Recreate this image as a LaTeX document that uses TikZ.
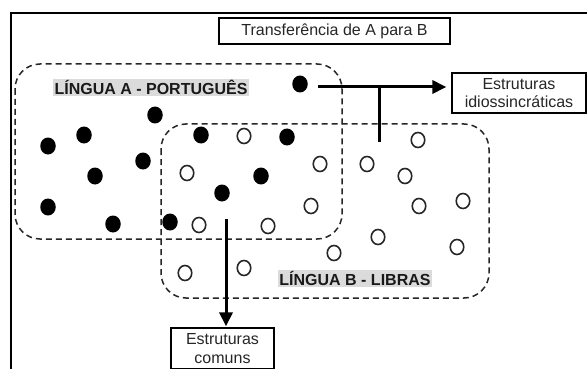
\documentclass[tikz,border=0pt]{standalone}
\usepackage{fontspec}
\setmainfont{Liberation Sans}
\usetikzlibrary{arrows.meta,shapes.geometric}
\begin{document}
\begin{tikzpicture}[x=1pt,y=-1pt,
  fulldot/.style={ellipse,fill=black,minimum width=15.5pt,minimum height=17pt,inner sep=0pt},
  opendot/.style={ellipse,draw=black!85,line width=1.6pt,minimum width=13.5pt,minimum height=15pt,inner sep=0pt},
  region/.style={draw=black!85,line width=1.5pt,dash pattern=on 6pt off 4pt,rounded corners=25pt},
  langlabel/.style={fill=black!14,inner sep=1.5pt,font=\fontsize{16}{18}\selectfont\bfseries,text=black!90},
  textbox/.style={draw=black,line width=1.2pt,align=center,inner sep=0pt,font=\fontsize{16}{18.5}\selectfont,text=black!85},
  arr/.style={line width=3pt,-{Triangle[length=14pt,width=13pt]}},
  plainline/.style={line width=3pt}
]
\useasboundingbox (0,0) rectangle (587,369);
\clip (0,0) rectangle (587,369);
\fill[white] (0,0) rectangle (587,369);
% outer frame
\draw[line width=2.2pt] (11,380) -- (11,13) -- (600,13);
% title
\node[textbox,minimum width=231pt,minimum height=26pt] (title) at (334.5,31) {Transferência de A para B};
% regions
\draw[region] (15,64) rectangle (342,239);
\draw[region] (161,124) rectangle (489,298);
\node[langlabel] (la) at (151,87.5) {LÍNGUA A - PORTUGUÊS};
\node[langlabel] (lb) at (355,278.5) {LÍNGUA B - LIBRAS};
% filled dots
\node[fulldot] (f1) at (300,84) {};
\node[fulldot] (f2) at (48,146) {};
\node[fulldot] (f3) at (84,135) {};
\node[fulldot] (f4) at (155,115) {};
\node[fulldot] (f5) at (143,161) {};
\node[fulldot] (f6) at (95,176) {};
\node[fulldot] (f7) at (48,207) {};
\node[fulldot] (f8) at (113,224) {};
\node[fulldot] (f9) at (170,222) {};
\node[fulldot] (f10) at (201,135) {};
\node[fulldot] (f11) at (287,137) {};
\node[fulldot] (f12) at (261,176) {};
\node[fulldot] (f13) at (222,193) {};
% open dots
\node[opendot] (o1) at (244,136) {};
\node[opendot] (o2) at (187,173) {};
\node[opendot] (o3) at (320,164) {};
\node[opendot] (o4) at (367,164) {};
\node[opendot] (o5) at (418,140) {};
\node[opendot] (o6) at (405,176) {};
\node[opendot] (o7) at (311,206) {};
\node[opendot] (o8) at (419,206) {};
\node[opendot] (o9) at (463,201) {};
\node[opendot] (o10) at (378,237) {};
\node[opendot] (o11) at (334,253) {};
\node[opendot] (o12) at (457,247) {};
\node[opendot] (o13) at (199,225) {};
\node[opendot] (o14) at (268,226) {};
\node[opendot] (o15) at (185,273) {};
\node[opendot] (o16) at (244,268) {};
% output boxes
\node[textbox,minimum width=134pt,minimum height=40pt] (idio) at (519,93) {Estruturas\\idiossincráticas};
\node[textbox,minimum width=103pt,minimum height=41pt] (comuns) at (222.5,348.5) {Estruturas\\comuns};
% connectors
\coordinate (hs) at (318,87);
\coordinate (tj) at (379,87);
\coordinate (te) at (379,142);
\coordinate (vs) at (226,219);
\draw[arr,shorten >=5pt] (hs) -- (hs -| idio.west);
\draw[plainline] (tj) -- (te);
\draw[arr,shorten >=1pt] (vs) -- (vs |- comuns.north);
\end{tikzpicture}
\end{document}
